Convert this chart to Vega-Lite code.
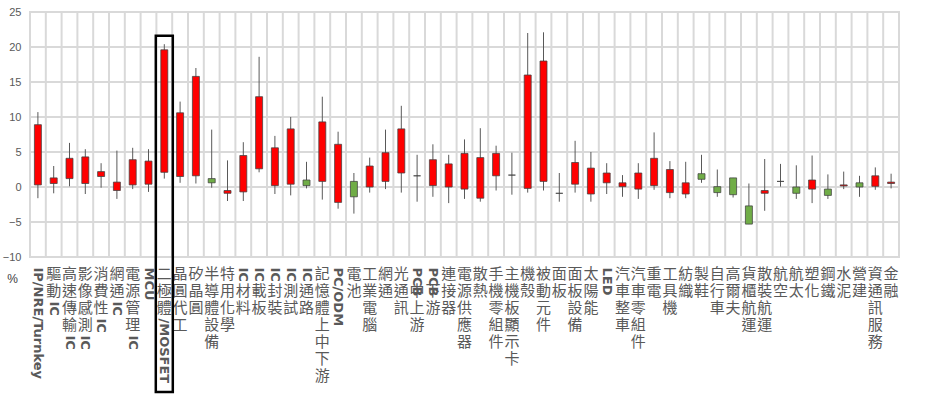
{
  "$schema": "https://vega.github.io/schema/vega-lite/v6.json",
  "width": 869,
  "height": 245,
  "autosize": {"type": "none"},
  "padding": {"left": 30, "top": 12, "right": 37, "bottom": 140},
  "background": "white",
  "config": {
    "view": {"stroke": "#D9D9D9", "strokeWidth": 2}
  },
  "datasets": {
    "candles": [
      {"industry": "IP/NRE/Turnkey", "open": 0.3, "close": 8.9, "high": 10.7, "low": -1.6},
      {"industry": "驅動IC", "open": 0.5, "close": 1.3, "high": 3.0, "low": -0.9},
      {"industry": "高速傳輸IC", "open": 1.2, "close": 4.1, "high": 6.3, "low": 0.1},
      {"industry": "影像感測IC", "open": 0.5, "close": 4.3, "high": 5.4, "low": -1.0},
      {"industry": "消費性IC", "open": 1.5, "close": 2.2, "high": 3.4, "low": -0.1},
      {"industry": "網通IC", "open": -0.5, "close": 0.7, "high": 5.2, "low": -1.7},
      {"industry": "電源管理IC", "open": 0.3, "close": 3.9, "high": 5.6, "low": -0.3},
      {"industry": "MCU", "open": 0.4, "close": 3.7, "high": 5.4, "low": -0.7},
      {"industry": "二極體/MOSFET", "open": 2.1, "close": 19.6, "high": 20.4, "low": 1.2},
      {"industry": "晶圓代工", "open": 1.5, "close": 10.6, "high": 12.2, "low": 0.6},
      {"industry": "矽晶圓", "open": 1.6, "close": 15.8, "high": 17.0, "low": 0.5},
      {"industry": "半導體設備", "open": 1.2, "close": 0.6, "high": 8.2, "low": -0.1},
      {"industry": "特用化學", "open": -0.9, "close": -0.5, "high": 3.8, "low": -2.0},
      {"industry": "IC材料", "open": -0.7, "close": 4.5, "high": 6.4, "low": -2.0},
      {"industry": "IC載板", "open": 2.6, "close": 12.9, "high": 18.6, "low": 2.1},
      {"industry": "IC封裝", "open": 0.2, "close": 5.6, "high": 7.3, "low": -1.0},
      {"industry": "IC測試", "open": 0.4, "close": 8.3, "high": 10.0, "low": -1.2},
      {"industry": "IC通路", "open": 1.0, "close": 0.2, "high": 3.6, "low": -0.2},
      {"industry": "記憶體上中下游", "open": 0.8, "close": 9.3, "high": 12.9, "low": -1.8},
      {"industry": "PC/ODM", "open": -2.2, "close": 6.1, "high": 7.9, "low": -3.1},
      {"industry": "電池", "open": 0.8, "close": -1.4, "high": 2.0, "low": -3.8},
      {"industry": "工業電腦", "open": 0.0, "close": 3.0, "high": 4.2, "low": -0.8},
      {"industry": "網通", "open": 0.8, "close": 4.9, "high": 8.2, "low": -0.3},
      {"industry": "光通訊", "open": 2.0, "close": 8.3, "high": 11.6, "low": -0.8},
      {"industry": "PCB中上游", "open": 1.6, "close": 1.6, "high": 4.6, "low": -2.1},
      {"industry": "PCB下游", "open": 0.2, "close": 3.9, "high": 6.1, "low": -1.4},
      {"industry": "連接器", "open": 0.0, "close": 3.3, "high": 4.6, "low": -2.3},
      {"industry": "電源供應器", "open": -0.3, "close": 4.8, "high": 6.8, "low": -1.7},
      {"industry": "散熱", "open": -1.6, "close": 4.2, "high": 8.4, "low": -2.1},
      {"industry": "手機零組件", "open": 1.6, "close": 4.8, "high": 5.9, "low": -0.5},
      {"industry": "主機板/顯示卡", "open": 1.7, "close": 1.7, "high": 4.9, "low": -1.1},
      {"industry": "機殼", "open": -0.2, "close": 16.0, "high": 22.0, "low": -0.8},
      {"industry": "被動元件", "open": 0.8, "close": 18.0, "high": 22.1, "low": -0.5},
      {"industry": "面板", "open": -0.9, "close": -0.9, "high": 2.0, "low": -2.1},
      {"industry": "面板設備", "open": 0.4, "close": 3.5, "high": 6.6, "low": -0.8},
      {"industry": "太陽能", "open": -1.0, "close": 2.7, "high": 5.0, "low": -2.1},
      {"industry": "LED", "open": 0.6, "close": 2.0, "high": 3.4, "low": -1.0},
      {"industry": "汽車整車", "open": 0.05, "close": 0.6, "high": 1.7, "low": -1.4},
      {"industry": "汽車零組件", "open": -0.3, "close": 2.0, "high": 3.4, "low": -1.7},
      {"industry": "重電", "open": 0.2, "close": 4.1, "high": 7.8, "low": -0.4},
      {"industry": "工具機", "open": -0.8, "close": 2.5, "high": 3.7, "low": -1.6},
      {"industry": "紡織", "open": -1.0, "close": 0.6, "high": 3.6, "low": -1.6},
      {"industry": "製鞋", "open": 1.9, "close": 1.1, "high": 4.6, "low": 0.6},
      {"industry": "自行車", "open": 0.05, "close": -0.8, "high": 2.5, "low": -1.4},
      {"industry": "高爾夫", "open": 1.3, "close": -1.1, "high": 1.3, "low": -1.5},
      {"industry": "貨櫃航運", "open": -2.7, "close": -5.3, "high": 0.5, "low": -5.3},
      {"industry": "散裝航運", "open": -0.9, "close": -0.5, "high": 4.0, "low": -3.4},
      {"industry": "航空", "open": 0.8, "close": 0.8, "high": 3.3, "low": 0.05},
      {"industry": "航太", "open": 0.0, "close": -0.9, "high": 3.1, "low": -1.7},
      {"industry": "塑化", "open": -0.3, "close": 1.0, "high": 4.5, "low": -2.3},
      {"industry": "鋼鐵", "open": -0.3, "close": -1.2, "high": 1.8, "low": -1.7},
      {"industry": "水泥", "open": 0.15, "close": 0.3, "high": 2.2, "low": -0.3},
      {"industry": "營建", "open": 0.6, "close": 0.0, "high": 1.6, "low": -1.4},
      {"industry": "資通訊服務", "open": 0.1, "close": 1.6, "high": 2.8, "low": -0.4},
      {"industry": "金融", "open": 0.5, "close": 0.7, "high": 1.9, "low": -0.2}
    ],
    "yticks": [
      {"v": -10}, {"v": -5}, {"v": 0}, {"v": 5}, {"v": 10}, {"v": 15}, {"v": 20}, {"v": 25}
    ],
    "highlight": [
      {"industry": "二極體/MOSFET", "top": 21.6, "bottom": -29.3}
    ]
  },
  "data": {"name": "candles"},
  "layer": [
    {
      "data": {"name": "yticks"},
      "mark": {"type": "rule", "color": "#D9D9D9", "strokeWidth": 2},
      "encoding": {
        "y": {"field": "v", "type": "quantitative", "axis": null}
      }
    },
    {
      "mark": {"type": "rule", "color": "#D9D9D9", "strokeWidth": 2},
      "encoding": {
        "x": {"field": "industry", "type": "nominal", "sort": null, "bandPosition": 0, "axis": null}
      }
    },
    {
      "mark": {"type": "rule", "color": "#595959", "strokeWidth": 1},
      "encoding": {
        "x": {
          "field": "industry", "type": "nominal", "sort": null,
          "scale": {"paddingInner": 0, "paddingOuter": 0},
          "axis": {
            "orient": "bottom",
            "title": null, "domain": false, "ticks": false, "grid": false,
            "labelAngle": 0, "labelAlign": "center", "labelBaseline": "top",
            "labelPadding": 9,
            "labelFont": "Noto Sans CJK TC", "labelFontSize": 15, "labelLineHeight": 17,
            "labelColor": "#595959",
            "labelOverlap": false, "labelBound": false, "labelFlush": false, "labelLimit": 0,
            "labelExpr": "split(replace(replace(datum.label, regexp('[!-~]{3,}','g'), '\u3000\u3000'), regexp('[!-~]+','g'), '\u3000'), '')"
          }
        },
        "y": {
          "field": "low", "type": "quantitative", "title": "%",
          "scale": {"domain": [-10, 25], "nice": false, "zero": false},
          "axis": {
            "values": [-10, -5, 0, 5, 10, 15, 20, 25],
            "domain": false, "ticks": false, "grid": false,
            "labelOverlap": false,
            "labelFont": "Liberation Sans", "labelFontSize": 11, "labelColor": "#595959",
            "labelPadding": 9,
            "titleAngle": 0, "titleX": -18, "titleY": 266, "titleAlign": "center", "titleBaseline": "middle",
            "titleFont": "Liberation Sans", "titleFontSize": 12, "titleFontWeight": "normal", "titleColor": "#404040"
          }
        },
        "y2": {"field": "high"}
      }
    },
    {
      "mark": {"type": "bar", "size": 7, "stroke": "#404040", "strokeWidth": 0.75},
      "encoding": {
        "x": {
          "field": "industry", "type": "nominal", "sort": null,
          "axis": {
            "orient": "bottom",
            "title": null, "grid": false, "domain": false, "ticks": false,
            "labelAngle": 90, "labelAlign": "left", "labelBaseline": "middle",
            "labelPadding": {
              "condition": [
                {"test": "length(replace(datum.value, regexp('[!-~].*$'), '')) == 2", "value": 44},
                {"test": "length(replace(datum.value, regexp('[!-~].*$'), '')) == 3", "value": 61},
                {"test": "length(replace(datum.value, regexp('[!-~].*$'), '')) == 4", "value": 78}
              ],
              "value": 10
            },
            "labelFont": "DejaVu Sans", "labelFontWeight": "bold", "labelFontSize": 13,
            "labelColor": "#595959",
            "labelOverlap": false, "labelBound": false, "labelFlush": false, "labelLimit": 0,
            "labelExpr": "replace(datum.label, regexp('[^!-~]','g'), '')"
          }
        },
        "y": {"field": "open", "type": "quantitative", "axis": null},
        "y2": {"field": "close"},
        "fill": {"condition": {"test": "datum.close >= datum.open", "value": "#FF0000"}, "value": "#70AD47"}
      }
    },
    {
      "data": {"name": "highlight"},
      "mark": {"type": "bar", "size": 17, "fill": "transparent", "stroke": "#000000", "strokeWidth": 2.5},
      "encoding": {
        "x": {"field": "industry", "type": "nominal", "sort": null, "axis": null},
        "y": {"field": "top", "type": "quantitative", "axis": null},
        "y2": {"field": "bottom"}
      }
    }
  ],
  "resolve": {"axis": {"x": "independent", "y": "independent"}}
}
